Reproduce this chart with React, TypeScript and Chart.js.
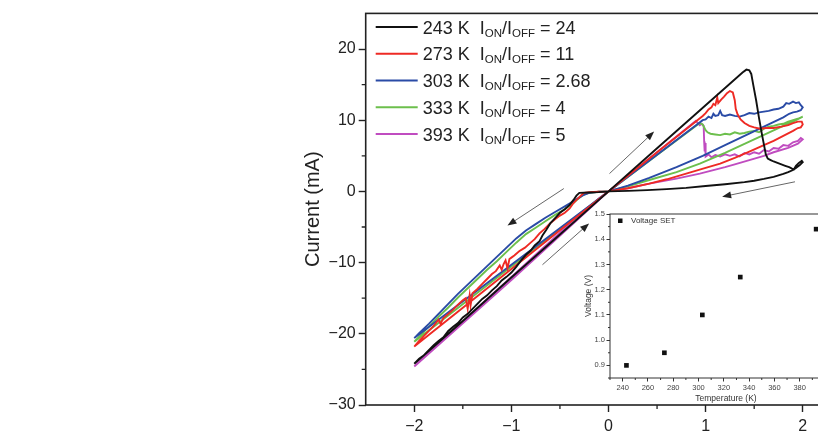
import React, { useEffect, useRef } from 'react';
import { Chart, registerables } from 'chart.js';

Chart.register(...registerables);

type Pt = [number, number];

// ---------- main chart data ----------
const temperatures = ['243 K', '273 K', '303 K', '333 K', '393 K'];
const onOffRatios = ['24', '11', '2.68', '4', '5'];
const seriesColors = ['#111111', '#ee2a24', '#2a4ba6', '#6cbf4c', '#c04cc0'];

const curve243K: Pt[] = [
  [0, 0], [0.5, 6.05], [1.0, 12.1], [1.38, 16.7], [1.42, 17.1], [1.45, 17.0], [1.47, 16.5], [1.49, 15.0],
  [1.52, 12.8], [1.55, 10.3], [1.58, 8.0], [1.60, 6.6], [1.62, 5.2], [1.64, 4.6], [1.67, 4.4], [1.70, 4.2],
  [1.74, 4.0], [1.78, 3.8], [1.82, 3.6], [1.86, 3.4], [1.89, 3.2], [1.91, 3.1], [1.93, 3.6], [1.96, 4.0],
  [1.99, 4.3], [2.0, 4.1],
  [1.97, 3.7], [1.93, 3.3], [1.9, 3.0], [1.85, 2.7], [1.8, 2.45], [1.7, 2.05], [1.6, 1.75], [1.5, 1.5],
  [1.4, 1.3], [1.2, 1.0], [1.0, 0.75], [0.8, 0.5], [0.6, 0.32], [0.4, 0.18], [0.2, 0.07], [0, 0],
  [-0.1, -0.1], [-0.2, -0.15], [-0.3, -0.2], [-0.33, -0.6], [-0.36, -1.2], [-0.40, -1.9], [-0.45, -2.5],
  [-0.5, -3.0], [-0.54, -3.6], [-0.6, -4.5], [-0.64, -5.4], [-0.68, -6.2], [-0.71, -7.0], [-0.76, -7.6],
  [-0.8, -8.3], [-0.85, -8.9], [-0.9, -9.7], [-0.95, -10.6], [-1.0, -11.4], [-1.05, -12.0], [-1.1, -12.5],
  [-1.15, -13.3], [-1.2, -13.9], [-1.25, -14.6], [-1.3, -15.1], [-1.35, -15.8], [-1.4, -16.5], [-1.45, -17.2],
  [-1.5, -17.7], [-1.55, -18.5], [-1.6, -19.0], [-1.65, -19.6], [-1.7, -20.5], [-1.75, -21.0], [-1.8, -21.6],
  [-1.85, -22.3], [-1.9, -23.0], [-1.95, -23.5], [-2.0, -24.2],
  [-1.5, -18.2], [-1.0, -12.1], [-0.5, -6.05], [0, 0],
];

const curve273K: Pt[] = [
  [0, 0], [0.5, 5.5], [0.97, 10.6], [1.0, 11.0], [1.03, 11.5], [1.06, 11.8], [1.08, 12.3], [1.1, 12.1],
  [1.12, 13.2], [1.13, 12.4], [1.16, 12.9], [1.19, 13.3], [1.22, 13.8], [1.25, 14.1], [1.28, 13.9],
  [1.30, 12.8], [1.31, 11.6], [1.33, 10.8], [1.36, 10.1], [1.40, 9.6], [1.45, 9.2], [1.5, 9.0], [1.56, 8.8],
  [1.62, 8.9], [1.7, 8.9], [1.78, 9.1], [1.85, 9.3], [1.9, 9.6], [1.95, 9.8], [1.99, 9.8], [2.0, 9.4],
  [1.98, 9.0], [1.95, 8.9], [1.9, 8.5], [1.8, 7.8], [1.7, 7.1], [1.6, 6.5], [1.45, 5.6], [1.3, 4.7],
  [1.15, 3.9], [1.0, 3.3], [0.8, 2.5], [0.6, 1.7], [0.42, 1.1], [0.2, 0.45], [0, 0],
  [-0.1, -0.05], [-0.2, -0.1], [-0.25, -0.2], [-0.27, -0.4], [-0.30, -0.8], [-0.33, -1.2], [-0.37, -1.8],
  [-0.40, -2.4], [-0.45, -3.0], [-0.5, -3.4], [-0.55, -3.9], [-0.61, -4.6], [-0.66, -5.3], [-0.71, -5.9],
  [-0.76, -6.7], [-0.81, -7.3], [-0.86, -7.9], [-0.92, -8.4], [-0.97, -9.0], [-1.0, -9.3], [-1.02, -9.5],
  [-1.04, -10.8], [-1.06, -9.7], [-1.08, -10.2], [-1.1, -11.0], [-1.12, -10.4], [-1.16, -11.2], [-1.2, -11.6],
  [-1.25, -12.3], [-1.3, -13.0], [-1.35, -13.7], [-1.4, -14.3], [-1.42, -16.0], [-1.43, -14.6], [-1.45, -16.5],
  [-1.47, -15.0], [-1.5, -15.3], [-1.55, -15.9], [-1.6, -16.6], [-1.65, -17.2], [-1.7, -17.8], [-1.73, -18.6],
  [-1.75, -18.0], [-1.8, -18.9], [-1.85, -19.6], [-1.9, -20.3], [-1.95, -21.0], [-2.0, -21.8],
  [-1.0, -10.9], [0, 0],
];

const curve303K: Pt[] = [
  [0, 0], [0.5, 5.15], [0.97, 10.0], [1.0, 10.1], [1.03, 10.5], [1.06, 10.3], [1.08, 10.9], [1.1, 10.6],
  [1.13, 10.7], [1.15, 11.3], [1.17, 10.7], [1.2, 10.6], [1.25, 10.8], [1.3, 10.6], [1.35, 10.5], [1.4, 10.7],
  [1.45, 11.0], [1.5, 10.9], [1.55, 11.1], [1.6, 11.2], [1.65, 11.3], [1.7, 11.5], [1.75, 11.6], [1.8, 11.9],
  [1.83, 12.4], [1.86, 12.3], [1.9, 12.6], [1.93, 12.4], [1.96, 12.5], [1.98, 12.1], [2.0, 11.8],
  [1.98, 11.4], [1.94, 11.2], [1.9, 11.1], [1.86, 10.9],
  [1.8, 10.4], [1.6, 9.1], [1.4, 7.8], [1.2, 6.5], [0.97, 5.0], [0.7, 3.4], [0.42, 1.9], [0.2, 0.8], [0, 0],
  [-0.1, -0.05], [-0.2, -0.2], [-0.27, -0.6], [-0.35, -1.3], [-0.45, -2.1], [-0.55, -2.9], [-0.65, -3.7],
  [-0.75, -4.6], [-0.85, -5.5], [-0.95, -6.6], [-1.05, -7.9], [-1.15, -9.2], [-1.25, -10.5], [-1.35, -11.8],
  [-1.45, -13.1], [-1.55, -14.4], [-1.65, -15.8], [-1.75, -17.2], [-1.85, -18.6], [-1.95, -19.9], [-2.0, -20.6],
  [-1.0, -10.3], [0, 0],
];

const curve333K: Pt[] = [
  [0, 0], [0.5, 5.1], [0.94, 9.6], [0.97, 9.4], [1.0, 8.6], [1.02, 8.3], [1.05, 8.1], [1.1, 8.0], [1.15, 7.9],
  [1.2, 8.1], [1.25, 8.0], [1.3, 8.3], [1.35, 8.1], [1.4, 8.2], [1.45, 8.4], [1.5, 8.5], [1.55, 8.3], [1.6, 8.8],
  [1.65, 9.1], [1.7, 9.2], [1.75, 9.4], [1.8, 9.5], [1.85, 9.8], [1.9, 10.0], [1.95, 10.2], [2.0, 10.5],
  [1.9, 9.8], [1.8, 9.2], [1.5, 7.3], [1.2, 5.4], [0.94, 3.9], [0.7, 2.7], [0.42, 1.6], [0.2, 0.7], [0, 0],
  [-0.1, -0.05], [-0.2, -0.2], [-0.25, -0.4], [-0.3, -0.9], [-0.35, -1.5], [-0.45, -2.5], [-0.55, -3.3],
  [-0.65, -4.2], [-0.75, -5.1], [-0.85, -6.0], [-0.95, -7.2], [-1.05, -8.5], [-1.15, -9.8], [-1.25, -11.0],
  [-1.35, -12.3], [-1.45, -13.6], [-1.55, -14.9], [-1.65, -16.3], [-1.75, -17.6], [-1.85, -19.0],
  [-1.95, -20.4], [-2.0, -21.1],
  [-1.0, -10.55], [0, 0],
];

const curve393K: Pt[] = [
  [0, 0], [0.5, 5.5], [0.9, 9.9], [0.92, 9.6], [0.94, 9.3], [0.96, 9.5], [0.98, 9.2], [0.985, 7.0],
  [0.99, 5.6], [0.995, 6.8], [1.0, 4.9], [1.03, 5.2], [1.06, 4.8], [1.1, 5.1], [1.15, 4.9], [1.2, 5.2],
  [1.25, 5.0], [1.3, 5.2], [1.35, 4.9], [1.4, 5.4], [1.45, 5.2], [1.5, 5.5], [1.55, 5.3], [1.6, 5.8],
  [1.65, 5.6], [1.7, 6.1], [1.75, 6.0], [1.8, 6.5], [1.85, 6.4], [1.9, 6.9], [1.95, 7.1], [1.98, 7.5], [2.0, 7.3],
  [1.95, 6.7], [1.85, 6.1], [1.7, 5.5], [1.6, 5.0], [1.45, 4.4], [1.3, 3.8], [1.2, 3.4], [0.94, 2.5],
  [0.7, 1.8], [0.42, 1.1], [0.2, 0.45], [0, 0],
  [-0.1, -1.0], [-0.2, -2.2], [-0.35, -3.9], [-0.5, -5.8], [-0.75, -8.9], [-1.0, -12.0], [-1.25, -15.1],
  [-1.5, -18.3], [-1.75, -21.4], [-2.0, -24.6],
  [-1.0, -12.45], [0, 0],
];

const curves: Pt[][] = [curve243K, curve273K, curve303K, curve333K, curve393K];

const xMin = -2.5;
const xMax = 2.5;
const yMin = -30;
const yMax = 25;
const xTicks = [-2, -1, 0, 1, 2];
const xMinorTicks = [-1.5, -0.5, 0.5, 1.5];
const yTicks = [-30, -20, -10, 0, 10, 20];
const yMinorTicks = [-25, -15, -5, 5, 15];
const yTitle = 'Current (mA)';

// sweep direction arrows: [tail, head] in data coordinates (V, mA)
const sweepArrows: [Pt, Pt][] = [
  [[0.01, 2.5], [0.47, 8.4]],
  [[1.92, 1.35], [1.17, -0.75]],
  [[-0.46, 0.4], [-1.04, -4.8]],
  [[-0.68, -10.3], [-0.2, -4.5]],
];

// ---------- inset data ----------
const insetTemperatures = [243, 273, 303, 333, 393];
const insetVoltageSet = [0.9, 0.95, 1.1, 1.25, 1.44];
const insetXTicks = [240, 260, 280, 300, 320, 340, 360, 380, 400];
const insetXMinor = [230, 250, 270, 290, 310, 330, 350, 370, 390];
const insetYTicks = [0.9, 1.0, 1.1, 1.2, 1.3, 1.4, 1.5];
const insetYMinor = [0.85, 0.95, 1.05, 1.15, 1.25, 1.35, 1.45];
const insetLegend = 'Voltage SET';
const insetXTitle = 'Temperature (K)';
const insetYTitle = 'Voltage (V)';

const FONT = '"Liberation Sans", Arial, sans-serif';
const fmtMinus = (v: number) => String(v).replace('-', '\u2212');

const MAIN_W = 900;
const MAIN_H = 434;
const INSET_LEFT = 560;
const INSET_TOP = 200;
const INSET_W = 290;
const INSET_H = 210;

export default function App() {
  const mainRef = useRef<HTMLCanvasElement>(null);
  const insetRef = useRef<HTMLCanvasElement>(null);

  useEffect(() => {
    const mainCanvas = mainRef.current!;
    const insetCanvas = insetRef.current!;

    const mainDecor = {
      id: 'mainDecor',
      afterDraw(chart: any) {
        const { ctx, chartArea } = chart;
        const xs = chart.scales.x;
        const ys = chart.scales.y;
        const { left, right, top, bottom } = chartArea;
        ctx.save();
        // frame
        ctx.strokeStyle = '#222';
        ctx.lineWidth = 1.6;
        ctx.strokeRect(left, top, right - left, bottom - top);
        // minor ticks
        ctx.lineWidth = 1.3;
        ctx.beginPath();
        xMinorTicks.forEach((v) => {
          const px = xs.getPixelForValue(v);
          ctx.moveTo(px, bottom);
          ctx.lineTo(px, bottom + 4);
        });
        yMinorTicks.forEach((v) => {
          const py = ys.getPixelForValue(v);
          ctx.moveTo(left, py);
          ctx.lineTo(left - 4, py);
        });
        ctx.stroke();
        // arrows
        sweepArrows.forEach(([tail, head]) => {
          const x0 = xs.getPixelForValue(tail[0]);
          const y0 = ys.getPixelForValue(tail[1]);
          const x1 = xs.getPixelForValue(head[0]);
          const y1 = ys.getPixelForValue(head[1]);
          const ang = Math.atan2(y1 - y0, x1 - x0);
          const hl = 9;
          const hw = 3.5;
          ctx.strokeStyle = '#666';
          ctx.lineWidth = 1;
          ctx.beginPath();
          ctx.moveTo(x0, y0);
          ctx.lineTo(x1 - Math.cos(ang) * hl * 0.8, y1 - Math.sin(ang) * hl * 0.8);
          ctx.stroke();
          ctx.fillStyle = '#222';
          ctx.beginPath();
          ctx.moveTo(x1, y1);
          ctx.lineTo(x1 - Math.cos(ang) * hl - Math.sin(ang) * hw, y1 - Math.sin(ang) * hl + Math.cos(ang) * hw);
          ctx.lineTo(x1 - Math.cos(ang) * hl + Math.sin(ang) * hw, y1 - Math.sin(ang) * hl - Math.cos(ang) * hw);
          ctx.closePath();
          ctx.fill();
        });
        // legend
        const mainFont = `18px ${FONT}`;
        const subFont = `11.5px ${FONT}`;
        temperatures.forEach((t, i) => {
          const ly = top + 13.6 + i * 26.75;
          ctx.strokeStyle = seriesColors[i];
          ctx.lineWidth = 2;
          ctx.beginPath();
          ctx.moveTo(left + 10, ly);
          ctx.lineTo(left + 52, ly);
          ctx.stroke();
          ctx.fillStyle = '#222';
          ctx.textBaseline = 'alphabetic';
          ctx.textAlign = 'left';
          let x = left + 57;
          const base = ly + 6.5;
          const parts: [string, boolean][] = [
            [`${t}  I`, false],
            ['ON', true],
            ['/I', false],
            ['OFF', true],
            [` = ${onOffRatios[i]}`, false],
          ];
          parts.forEach(([txt, sub]) => {
            ctx.font = sub ? subFont : mainFont;
            ctx.fillText(txt, x, sub ? base + 3 : base);
            x += ctx.measureText(txt).width;
          });
        });
        // y title
        ctx.translate(313, (top + bottom) / 2);
        ctx.rotate(-Math.PI / 2);
        ctx.font = `20px ${FONT}`;
        ctx.fillStyle = '#222';
        ctx.textAlign = 'center';
        ctx.textBaseline = 'middle';
        ctx.fillText(yTitle, 0, 0);
        ctx.restore();
      },
    };

    const mainChart = new Chart(mainCanvas, {
      type: 'scatter',
      data: {
        datasets: curves.map((c, i) => ({
          label: temperatures[i],
          data: c.map(([x, y]) => ({ x, y })),
          showLine: true,
          borderColor: seriesColors[i],
          backgroundColor: seriesColors[i],
          borderWidth: 1.9,
          pointRadius: 0,
          pointHoverRadius: 0,
          tension: 0,
          fill: false,
        })),
      },
      options: {
        responsive: false,
        animation: false,
        events: [],
        layout: { padding: { left: 0, top: 13.4, right: MAIN_W - 851.3, bottom: 0 } },
        plugins: { legend: { display: false }, tooltip: { enabled: false } },
        scales: {
          x: {
            type: 'linear',
            min: xMin,
            max: xMax,
            afterBuildTicks: (s: any) => {
              s.ticks = xTicks.map((v) => ({ value: v }));
            },
            afterFit: (s: any) => {
              s.height = MAIN_H - 405;
            },
            border: { display: false },
            grid: { drawOnChartArea: false, drawTicks: true, tickLength: 7, tickColor: '#222', tickWidth: 1.4 },
            ticks: {
              autoSkip: false,
              maxRotation: 0,
              padding: 5,
              color: '#222',
              font: { family: FONT, size: 16 },
              callback: (v: any) => fmtMinus(v),
            },
          },
          y: {
            type: 'linear',
            min: yMin,
            max: yMax,
            afterBuildTicks: (s: any) => {
              s.ticks = yTicks.map((v) => ({ value: v }));
            },
            afterFit: (s: any) => {
              s.width = 365.7;
            },
            border: { display: false },
            grid: { drawOnChartArea: false, drawTicks: true, tickLength: 7, tickColor: '#222', tickWidth: 1.4 },
            ticks: {
              autoSkip: false,
              padding: 3,
              color: '#222',
              font: { family: FONT, size: 16 },
              callback: (v: any) => fmtMinus(v),
            },
          },
        },
      },
      plugins: [mainDecor],
    } as any);

    const insetDecor = {
      id: 'insetDecor',
      beforeDraw(chart: any) {
        const { ctx, chartArea } = chart;
        ctx.save();
        ctx.fillStyle = '#fff';
        ctx.fillRect(chartArea.left, chartArea.top, chartArea.right - chartArea.left, chartArea.bottom - chartArea.top);
        ctx.restore();
      },
      afterDraw(chart: any) {
        const { ctx, chartArea } = chart;
        const xs = chart.scales.x;
        const ys = chart.scales.y;
        const { left, right, top, bottom } = chartArea;
        ctx.save();
        ctx.strokeStyle = '#333';
        ctx.lineWidth = 1;
        ctx.strokeRect(left, top, right - left, bottom - top);
        ctx.beginPath();
        insetXMinor.forEach((v) => {
          const px = xs.getPixelForValue(v);
          ctx.moveTo(px, bottom);
          ctx.lineTo(px, bottom + 2);
        });
        insetYMinor.forEach((v) => {
          const py = ys.getPixelForValue(v);
          ctx.moveTo(left, py);
          ctx.lineTo(left - 2, py);
        });
        ctx.stroke();
        // legend
        ctx.fillStyle = '#111';
        ctx.fillRect(left + 8, top + 4.5, 4.5, 4.5);
        ctx.fillStyle = '#333';
        ctx.font = `8px ${FONT}`;
        ctx.textAlign = 'left';
        ctx.textBaseline = 'middle';
        ctx.fillText(insetLegend, left + 21, top + 7);
        // titles
        ctx.font = `8.5px ${FONT}`;
        ctx.textAlign = 'center';
        ctx.fillText(insetXTitle, 166, 199);
        ctx.translate(29, (top + bottom) / 2);
        ctx.rotate(-Math.PI / 2);
        ctx.fillText(insetYTitle, 0, 0);
        ctx.restore();
      },
    };

    const insetChart = new Chart(insetCanvas, {
      type: 'scatter',
      data: {
        datasets: [
          {
            label: insetLegend,
            data: insetTemperatures.map((t, i) => ({ x: t, y: insetVoltageSet[i] })),
            pointStyle: 'rect',
            pointRadius: 3.3,
            backgroundColor: '#111',
            borderColor: '#111',
            borderWidth: 0,
            showLine: false,
          },
        ],
      },
      options: {
        responsive: false,
        animation: false,
        events: [],
        layout: { padding: { left: 0, top: 14, right: INSET_W - 265, bottom: 0 } },
        plugins: { legend: { display: false }, tooltip: { enabled: false } },
        scales: {
          x: {
            type: 'linear',
            min: 230,
            max: 400,
            afterBuildTicks: (s: any) => {
              s.ticks = insetXTicks.map((v) => ({ value: v }));
            },
            afterFit: (s: any) => {
              s.height = INSET_H - 178;
            },
            border: { display: false },
            grid: { drawOnChartArea: false, drawTicks: true, tickLength: 3.5, tickColor: '#333', tickWidth: 1 },
            ticks: {
              autoSkip: false,
              maxRotation: 0,
              padding: 1.5,
              color: '#444',
              font: { family: FONT, size: 7.5 },
              callback: (v: any) => String(v),
            },
          },
          y: {
            type: 'linear',
            min: 0.85,
            max: 1.5,
            afterBuildTicks: (s: any) => {
              s.ticks = insetYTicks.map((v) => ({ value: v }));
            },
            afterFit: (s: any) => {
              s.width = 50;
            },
            border: { display: false },
            grid: { drawOnChartArea: false, drawTicks: true, tickLength: 3.5, tickColor: '#333', tickWidth: 1 },
            ticks: {
              autoSkip: false,
              padding: 1.5,
              color: '#444',
              font: { family: FONT, size: 7.5 },
              callback: (v: any) => Number(v).toFixed(1),
            },
          },
        },
      },
      plugins: [insetDecor],
    } as any);

    return () => {
      mainChart.destroy();
      insetChart.destroy();
    };
  }, []);

  return (
    <div
      style={{
        position: 'fixed',
        left: 0,
        top: 0,
        width: 818,
        height: 434,
        overflow: 'hidden',
        background: '#fff',
      }}
    >
      <canvas
        ref={mainRef}
        width={MAIN_W}
        height={MAIN_H}
        style={{ position: 'absolute', left: 0, top: 0, width: MAIN_W, height: MAIN_H }}
      />
      <canvas
        ref={insetRef}
        width={INSET_W}
        height={INSET_H}
        style={{ position: 'absolute', left: INSET_LEFT, top: INSET_TOP, width: INSET_W, height: INSET_H }}
      />
    </div>
  );
}
